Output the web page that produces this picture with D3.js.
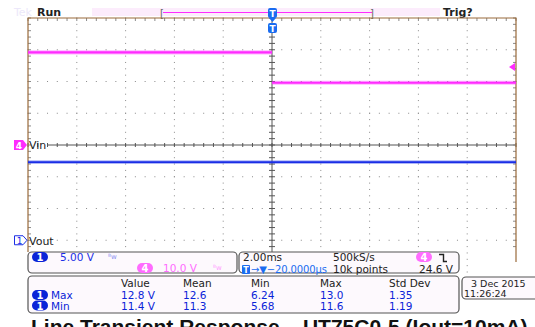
<!doctype html>
<html>
<head>
<meta charset="utf-8">
<script src="https://cdn.jsdelivr.net/npm/d3@7"></script>
<style>
    html, body { margin: 0; padding: 0; background: #fff; }
    svg { display: block; font-family: "DejaVu Sans", sans-serif; }
</style>
</head>
<body>
<svg id="scope" width="535" height="327"></svg>
<script>
    var vinBefore = {t: [-10, 0], v: [29.2, 29.2]};   // ch4, volts
    var vinAfter  = {t: [0, 10],  v: [19.6, 19.6]};
    var voutTrace = {t: [-10, 10], v: [12.3, 12.3]};  // ch1, volts
    var measHeaders = ["Value", "Mean", "Min", "Max", "Std Dev"];
    var measMax = ["12.8 V", "12.6", "6.24", "13.0", "1.35"];
    var measMin = ["11.4 V", "11.3", "5.68", "11.6", "1.19"];
    var ch1Scale = 5, ch4Scale = 10, ch1Pos = -3, ch4Pos = 0, trigLevel = 24.6;

    var svg = d3.select("#scope");
    var L = 28, R = 516, T = 18, B = 272;
    var x = d3.scaleLinear().domain([-10, 10]).range([L, R]);      // ms
    var div = d3.scaleLinear().domain([-4, 4]).range([B, T]);      // divisions
    var y1 = function(v){ return div(v / ch1Scale + ch1Pos); };
    var y4 = function(v){ return div(v / ch4Scale + ch4Pos); };

    var blue = "#1a2ee6", mag = "#ff2bff", grid = "#8a8a8a", brown = "#9a6a3a";

    // top bar
    svg.append("text").attr("x", 14).attr("y", 16).attr("fill", "#ece8fa")
        .style("font-size", "11px").text("Tek");
    svg.append("rect").attr("x", 92).attr("y", 8).attr("width", 348).attr("height", 8).attr("fill", "#fcecfc");
    svg.append("line").attr("x1", 163).attr("x2", 372).attr("y1", 12.5).attr("y2", 12.5)
        .attr("stroke", mag).attr("stroke-width", 1);
    svg.append("text").attr("x", 160).attr("y", 17).attr("fill", "#666").style("font-size", "10px").text("[");
    svg.append("text").attr("x", 370).attr("y", 17).attr("fill", "#666").style("font-size", "10px").text("]");
    svg.append("text").attr("x", 37).attr("y", 16).attr("fill", "#222")
        .style("font-size", "11px").style("font-weight", "bold").text("Run");
    svg.append("text").attr("x", 443).attr("y", 16).attr("fill", "#222")
        .style("font-size", "11px").style("font-weight", "bold").text("Trig?");

    // graticule
    var g = svg.append("g");
    var xDivs = d3.range(-10, 10.01, 2);
    var yDivs = d3.range(-4, 4.01, 1);
    xDivs.forEach(function(t){
        if (t === -10 || t === 10 || t === 0) return;
        d3.range(-4, 4.001, 0.2).forEach(function(d){
            g.append("rect").attr("x", x(t) - 0.5).attr("y", div(d) - 0.5).attr("width", 1).attr("height", 1).attr("fill", grid);
        });
    });
    yDivs.forEach(function(d){
        if (d === -4 || d === 4 || d === 0) return;
        d3.range(-10, 10.001, 0.4).forEach(function(t){
            g.append("rect").attr("x", x(t) - 0.5).attr("y", div(d) - 0.5).attr("width", 1).attr("height", 1).attr("fill", grid);
        });
    });
    // center lines with minor ticks
    g.append("line").attr("x1", 48).attr("x2", R).attr("y1", div(0)).attr("y2", div(0)).attr("stroke", "#555");
    g.append("line").attr("x1", x(0)).attr("x2", x(0)).attr("y1", T).attr("y2", 252).attr("stroke", "#555");
    d3.range(-10, 10.001, 0.4).forEach(function(t){
        g.append("line").attr("x1", x(t)).attr("x2", x(t)).attr("y1", div(0) - 2).attr("y2", div(0) + 2).attr("stroke", "#555");
        g.append("line").attr("x1", x(t)).attr("x2", x(t)).attr("y1", T).attr("y2", T + 3).attr("stroke", grid);
    });
    d3.range(-4, 4.001, 0.2).forEach(function(d){
        if (div(d) > 252) return;
        g.append("line").attr("x1", x(0) - 3).attr("x2", x(0) + 3).attr("y1", div(d)).attr("y2", div(d)).attr("stroke", "#555");
        g.append("line").attr("x1", L).attr("x2", L + 3).attr("y1", div(d)).attr("y2", div(d)).attr("stroke", grid);
        g.append("line").attr("x1", R - 3).attr("x2", R).attr("y1", div(d)).attr("y2", div(d)).attr("stroke", grid);
    });
    // border
    g.append("path").attr("d", "M" + L + ",252V" + T + "H" + R + "V262").attr("fill", "none")
        .attr("stroke", brown).attr("stroke-width", 1.2);

    // traces
    function drawTrace(tr, yf, color, w){
        var pts = tr.t.map(function(t, i){ return [x(t), yf(tr.v[i])]; });
        var line = d3.line();
        svg.append("path").attr("d", line(pts)).attr("stroke", color).attr("stroke-width", w + 2)
            .attr("opacity", 0.35).attr("fill", "none");
        svg.append("path").attr("d", line(pts)).attr("stroke", color).attr("stroke-width", w)
            .attr("fill", "none");
    }
    drawTrace(vinBefore, y4, mag, 2.2);
    drawTrace(vinAfter, y4, mag, 2.2);
    drawTrace(voutTrace, y1, blue, 1.8);

    // trigger position markers
    function tMarker(cx, top){
        svg.append("rect").attr("x", cx - 4).attr("y", top).attr("width", 9).attr("height", 10)
            .attr("rx", 2).attr("fill", "#1a6cf0");
        svg.append("text").attr("x", cx + 0.5).attr("y", top + 8.5).attr("text-anchor", "middle")
            .attr("fill", "#fff").style("font-size", "9px").style("font-weight", "bold").text("T");
    }
    tMarker(x(0), 8);
    svg.append("path").attr("d", "M" + (x(0) - 3) + ",18L" + (x(0) + 4) + ",18L" + (x(0) + 0.5) + ",22Z").attr("fill", "#1a6cf0");
    tMarker(x(0), 23);
    // trigger level arrow
    var ty = y4(trigLevel);
    svg.append("path").attr("d", "M509," + ty + "L515," + (ty - 4) + "L515," + (ty + 4) + "Z").attr("fill", mag);

    // channel ground markers
    var c4y = div(ch4Pos), c1y = div(ch1Pos);
    svg.append("path").attr("d", "M14," + (c4y - 5) + "H23L27," + c4y + "L23," + (c4y + 5) + "H14Z").attr("fill", mag);
    svg.append("text").attr("x", 19).attr("y", c4y + 4).attr("text-anchor", "middle").attr("fill", "#fff")
        .style("font-size", "9px").style("font-weight", "bold").text("4");
    svg.append("text").attr("x", 29).attr("y", c4y + 4).attr("fill", "#222").style("font-size", "11px").text("Vin");
    svg.append("path").attr("d", "M14.5," + (c1y - 4.5) + "H23L27," + c1y + "L23," + (c1y + 4.5) + "H14.5Z")
        .attr("fill", "#fff").attr("stroke", blue);
    svg.append("text").attr("x", 19.5).attr("y", c1y + 4).attr("text-anchor", "middle").attr("fill", blue)
        .style("font-size", "9px").text("1");
    svg.append("text").attr("x", 29).attr("y", c1y + 5).attr("fill", "#222").style("font-size", "11px").text("Vout");

    // readout boxes
    function box(x0, y0, w, h){
        svg.append("rect").attr("x", x0).attr("y", y0).attr("width", w).attr("height", h).attr("rx", 4)
            .attr("fill", "#fdf9fd").attr("stroke", "#555").attr("stroke-width", 1.2);
    }
    function badge(cx, cy, label, color){
        svg.append("rect").attr("x", cx - 8).attr("y", cy - 5).attr("width", 16).attr("height", 10).attr("rx", 5).attr("fill", color);
        svg.append("text").attr("x", cx).attr("y", cy + 4).attr("text-anchor", "middle").attr("fill", "#fff")
            .style("font-size", "10px").style("font-weight", "bold").text(label);
    }
    function txt(x0, y0, s, color, anchor, size){
        return svg.append("text").attr("x", x0).attr("y", y0).attr("fill", color).attr("text-anchor", anchor || "start")
            .style("font-size", (size || 10.5) + "px").text(s);
    }
    box(28, 252, 209, 21);
    box(239, 252, 220, 21);
    box(28, 276, 431, 37);
    box(462, 277, 80, 22);

    badge(40, 257, "1", "#0a24d8");
    txt(60, 261, ch1Scale.toFixed(2) + " V", blue);
    svg.append("text").attr("x", 108).attr("y", 259).attr("fill", "#8a90f0").style("font-size", "7px").text("ᴮw");
    badge(145, 268, "4", "#ff6cff");
    txt(163, 272, ch4Scale.toFixed(1) + " V", "#ff6cff");
    svg.append("text").attr("x", 213).attr("y", 270).attr("fill", "#ff9cff").style("font-size", "7px").text("ᴮw");

    txt(243, 261, "2.00ms", "#222");
    txt(333, 261, "500kS/s", "#222");
    badge(424, 257, "4", "#ff6cff");
    svg.append("path").attr("d", "M439,254.5H443.5V261.5H447").attr("fill", "none").attr("stroke", "#222").attr("stroke-width", 1.4);
    svg.append("rect").attr("x", 242).attr("y", 265).attr("width", 8).attr("height", 9).attr("rx", 1).attr("fill", "#1a6cf0");
    svg.append("text").attr("x", 246).attr("y", 273).attr("text-anchor", "middle").attr("fill", "#fff")
        .style("font-size", "8px").style("font-weight", "bold").text("T");
    txt(251, 273, "→▼−20.0000µs", "#1a6cf0", "start", 10).attr("textLength", 76);
    txt(333, 273, "10k points", "#222");
    txt(453, 273, trigLevel.toFixed(1) + " V", "#222", "end");

    var colX = [121, 183, 251, 320, 389];
    measHeaders.forEach(function(h, i){ txt(colX[i], 287, h, "#222"); });
    [["Max", measMax, 295], ["Min", measMin, 305.5]].forEach(function(r){
        badge(40, r[2], "1", "#0a24d8");
        txt(51, r[2] + 4, r[0], "#0a24d8");
        r[1].forEach(function(v, i){ txt(colX[i], r[2] + 4, v, "#0a24d8"); });
    });

    txt(471, 286.5, "3 Dec  2015", "#222", "start", 9.5);
    txt(464, 297, "11:26:24", "#222", "start", 9.5);

    // caption, cut off at the bottom edge
    svg.append("text").attr("x", 31).attr("y", 334).attr("fill", "#111")
        .style("font-size", "21px").style("font-weight", "bold").style("font-family", "Liberation Sans, Arial, sans-serif")
        .text("Line Transient Response – UT75C0-5 (Iout=10mA)");
</script>
</body>
</html>
